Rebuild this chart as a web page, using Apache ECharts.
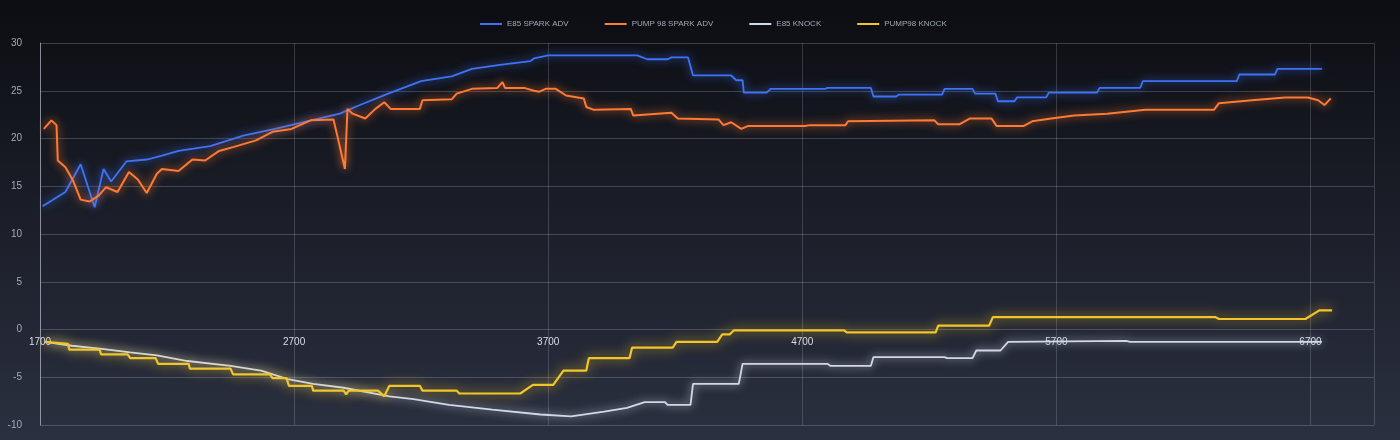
<!DOCTYPE html>
<html>
<head>
<meta charset="utf-8">
<script src="https://cdn.jsdelivr.net/npm/echarts@6/dist/echarts.min.js"></script>
<style>
  html, body { margin: 0; padding: 0; background: #14161d; }
  #chart { width: 1400px; height: 440px; }
</style>
</head>
<body>
<div id="chart"></div>
<script>
// values (rpm on x, degrees on y)
const e85SparkRpm = [1710, 1800, 1860, 1915, 1950, 1980, 2040, 2120, 2180, 2245, 2370, 2500, 2625, 2750, 2880, 2940, 3070, 3200, 3320, 3400, 3510, 3630, 3645, 3700, 4050, 4090, 4170, 4185, 4250, 4270, 4420, 4440, 4465, 4470, 4560, 4575, 4790, 4800, 4970, 4980, 5070, 5080, 5250, 5260, 5370, 5380, 5460, 5470, 5535, 5545, 5660, 5670, 5860, 5870, 6030, 6040, 6410, 6420, 6560, 6570, 6745];
const e85Spark = [12.9, 14.4, 17.3, 12.8, 16.8, 15.5, 17.6, 17.8, 18.2, 18.7, 19.2, 20.3, 21.0, 21.8, 22.6, 23.3, 24.7, 26.0, 26.5, 27.3, 27.7, 28.1, 28.4, 28.7, 28.7, 28.3, 28.3, 28.5, 28.5, 26.6, 26.6, 26.1, 26.1, 24.8, 24.8, 25.2, 25.2, 25.3, 25.3, 24.4, 24.4, 24.6, 24.6, 25.2, 25.2, 24.7, 24.7, 23.9, 23.9, 24.3, 24.3, 24.8, 24.8, 25.3, 25.3, 26.0, 26.0, 26.7, 26.7, 27.3, 27.3];

const pumpSparkRpm = [1715, 1745, 1765, 1770, 1800, 1830, 1860, 1895, 1930, 1960, 2005, 2050, 2085, 2120, 2160, 2180, 2245, 2300, 2350, 2405, 2460, 2550, 2615, 2690, 2765, 2855, 2870, 2900, 2910, 2930, 2980, 3020, 3055, 3080, 3195, 3205, 3320, 3340, 3400, 3500, 3520, 3530, 3605, 3645, 3665, 3690, 3730, 3770, 3840, 3850, 3880, 4025, 4035, 4185, 4210, 4370, 4390, 4420, 4460, 4485, 4710, 4730, 4870, 4880, 5220, 5235, 5320, 5360, 5445, 5465, 5570, 5605, 5680, 5770, 5900, 6050, 6320, 6340, 6470, 6600, 6690, 6730, 6755, 6780];
const pumpSpark = [21.0, 21.9, 21.4, 17.7, 17.0, 15.6, 13.6, 13.4, 14.0, 14.9, 14.4, 16.5, 15.7, 14.3, 16.3, 16.8, 16.6, 17.8, 17.7, 18.7, 19.1, 19.8, 20.7, 21.0, 21.9, 22.0, 20.3, 16.8, 23.1, 22.6, 22.1, 23.1, 23.8, 23.1, 23.1, 24.0, 24.1, 24.7, 25.2, 25.3, 25.9, 25.3, 25.3, 25.0, 24.9, 25.2, 25.2, 24.5, 24.2, 23.3, 23.0, 23.1, 22.4, 22.7, 22.1, 22.0, 21.4, 21.7, 21.0, 21.3, 21.3, 21.4, 21.4, 21.8, 21.9, 21.5, 21.5, 22.1, 22.1, 21.3, 21.3, 21.8, 22.1, 22.4, 22.6, 23.0, 23.0, 23.7, 24.0, 24.3, 24.3, 24.0, 23.5, 24.2];

const e85KnockRpm = [1720, 1825, 1935, 2055, 2160, 2280, 2450, 2570, 2675, 2775, 2895, 3075, 3170, 3310, 3480, 3670, 3790, 3920, 4010, 4080, 4160, 4170, 4260, 4270, 4450, 4465, 4800, 4810, 4970, 4980, 5260, 5270, 5370, 5385, 5480, 5510, 5975, 5990, 6745];
const e85Knock = [-1.3, -1.7, -2.0, -2.4, -2.7, -3.3, -3.8, -4.3, -5.2, -5.7, -6.1, -7.0, -7.3, -7.9, -8.4, -8.9, -9.1, -8.6, -8.2, -7.6, -7.6, -7.9, -7.9, -5.7, -5.7, -3.6, -3.6, -3.8, -3.8, -2.9, -2.9, -3.0, -3.0, -2.2, -2.2, -1.3, -1.2, -1.3, -1.3];

const pumpKnockRpm = [1720, 1810, 1815, 1935, 1940, 2045, 2055, 2155, 2165, 2285, 2290, 2450, 2460, 2605, 2615, 2670, 2680, 2770, 2775, 2895, 2905, 2915, 3030, 3055, 3075, 3195, 3205, 3340, 3350, 3590, 3640, 3720, 3760, 3850, 3860, 4020, 4030, 4190, 4205, 4365, 4385, 4415, 4430, 4865, 4875, 5225, 5235, 5435, 5450, 6325, 6340, 6680, 6735, 6785];
const pumpKnock = [-1.3, -1.5, -2.1, -2.1, -2.6, -2.6, -3.0, -3.0, -3.6, -3.6, -4.1, -4.1, -4.7, -4.7, -5.1, -5.1, -5.9, -5.9, -6.4, -6.4, -6.8, -6.4, -6.4, -7.0, -5.9, -5.9, -6.4, -6.4, -6.7, -6.7, -5.8, -5.8, -4.3, -4.3, -3.0, -3.0, -1.9, -1.9, -1.3, -1.3, -0.5, -0.5, -0.1, -0.1, -0.3, -0.3, 0.4, 0.4, 1.3, 1.3, 1.1, 1.1, 2.0, 2.0];

const xTickStart = 1700;
const xTickStep = 1000;

function pairs(xs, ys) {
  return xs.map((x, i) => [x, ys[i]]);
}

function glowLine(name, xs, ys, color, width, blur) {
  return {
    type: 'line',
    name: name,
    data: pairs(xs, ys),
    showSymbol: false,
    symbol: 'none',
    lineStyle: {
      color: color,
      width: width,
      shadowColor: color,
      shadowBlur: blur,
    },
    itemStyle: { color: color },
  };
}

const font = '"Liberation Sans", Roboto, sans-serif';
const chart = echarts.init(document.getElementById('chart'));

chart.setOption({
  backgroundColor: {
    type: 'linear', x: 0, y: 0, x2: 0, y2: 1,
    colorStops: [
      { offset: 0, color: '#0c0d12' },
      { offset: 0.45, color: '#1a1d27' },
      { offset: 1, color: '#2b3040' },
    ],
  },
  animation: false,
  textStyle: { fontFamily: font },
  legend: {
    top: 15,
    left: 475,
    icon: 'rect',
    itemWidth: 22,
    itemHeight: 2,
    itemGap: 36,
    textStyle: { color: '#a2a7b3', fontSize: 8, fontFamily: font },
    data: ['E85 SPARK ADV', 'PUMP 98 SPARK ADV', 'E85 KNOCK', 'PUMP98 KNOCK'],
  },
  grid: { left: 40, right: 26, top: 43, bottom: 15 },
  xAxis: {
    type: 'value',
    min: xTickStart,
    max: 6950,
    interval: xTickStep,
    // the labels sit on the zero line, as in the reference
    offset: -96,
    axisLine: { show: false },
    axisTick: { show: false },
    axisLabel: {
      color: '#d8dcea',
      fontSize: 10,
      margin: 8,
      showMaxLabel: false,
      formatter: function (v) {
        return (v - xTickStart) % xTickStep === 0 ? String(v) : '';
      },
    },
    splitLine: { show: true, lineStyle: { color: 'rgba(190,195,210,0.22)', width: 1 } },
  },
  yAxis: {
    type: 'value',
    min: -10,
    max: 30,
    interval: 5,
    axisLine: { show: true, lineStyle: { color: 'rgba(200,205,220,0.55)' } },
    axisTick: { show: false },
    axisLabel: { color: '#a4aab8', fontSize: 10, margin: 18 },
    splitLine: { lineStyle: { color: 'rgba(190,195,210,0.25)', width: 1 } },
  },
  series: [
    glowLine('E85 SPARK ADV', e85SparkRpm, e85Spark, '#3f73f5', 1.8, 8),
    glowLine('PUMP 98 SPARK ADV', pumpSparkRpm, pumpSpark, '#ff7a34', 2, 8),
    glowLine('E85 KNOCK', e85KnockRpm, e85Knock, '#d2d8e8', 1.8, 8),
    glowLine('PUMP98 KNOCK', pumpKnockRpm, pumpKnock, '#f2c52a', 2.2, 12),
  ],
});
</script>
</body>
</html>
